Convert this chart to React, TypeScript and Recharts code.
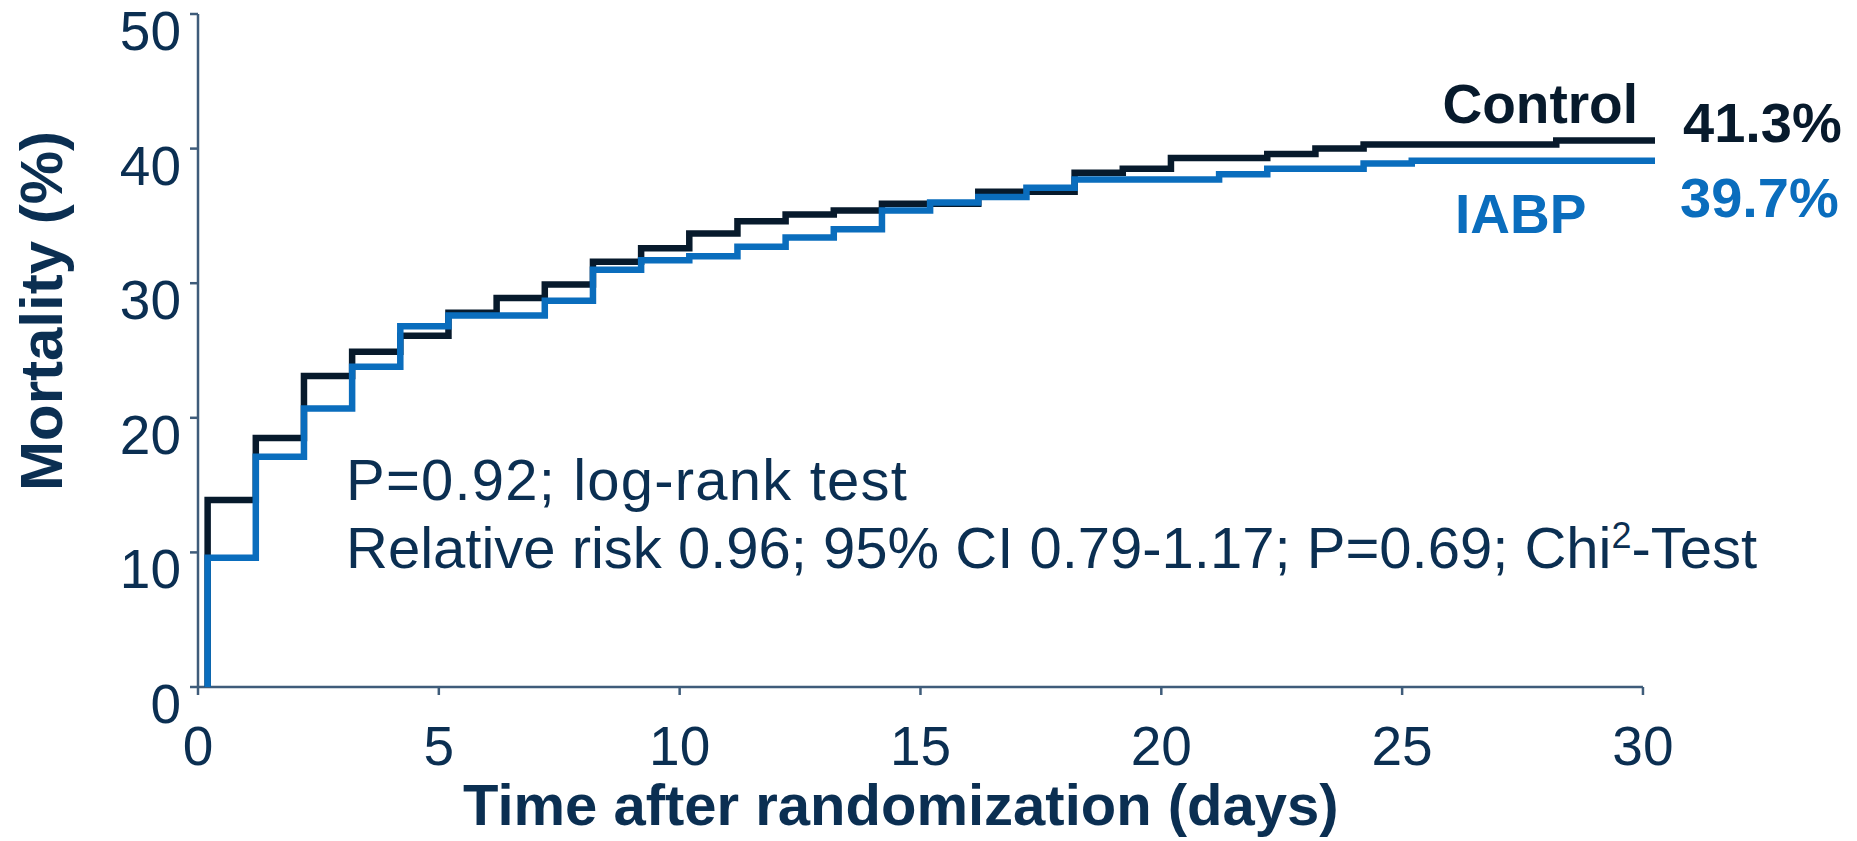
import React from "react";
import { LineChart, Line, XAxis, YAxis, ReferenceLine, Customized } from "recharts";

// Kaplan-Meier style step curves: each step happens ~0.2 d after the day mark
const stepDays = [0.2, 1.2, 2.2, 3.2, 4.2, 5.2, 6.2, 7.2, 8.2, 9.2, 10.2, 11.2, 12.2, 13.2, 14.2,
  15.2, 16.2, 17.2, 18.2, 19.2, 20.2, 21.2, 22.2, 23.2, 24.2, 25.2, 26.2, 27.2, 28.2];
const endDay = 30.25;

const controlPct = [13.9, 18.5, 23.1, 24.9, 26.1, 27.8, 28.9, 29.9, 31.6, 32.6, 33.7, 34.6, 35.1, 35.4, 35.9,
  35.9, 36.8, 36.8, 38.2, 38.5, 39.3, 39.3, 39.6, 40.0, 40.3, 40.3, 40.3, 40.3, 40.6];
const iabpPct = [9.6, 17.1, 20.7, 23.8, 26.8, 27.6, 27.6, 28.7, 31.0, 31.7, 32.0, 32.7, 33.4, 34.0, 35.4,
  36.0, 36.4, 37.1, 37.7, 37.7, 37.7, 38.1, 38.5, 38.5, 38.9, 39.1, 39.1, 39.1, 39.1];

const xTicks = [0, 5, 10, 15, 20, 25, 30];
const yTicks = [0, 10, 20, 30, 40, 50];

const FONT = "'Liberation Sans', Arial, Helvetica, sans-serif";
const NAVY = "#0b2f52";
const AXIS = "#3f5c7a";
const CONTROL = "#071a2c";
const IABP = "#0a6dbd";

const toSeries = (vals: number[]) => [
  { day: stepDays[0], pct: 0 },
  ...stepDays.map((d, i) => ({ day: d, pct: vals[i] })),
  { day: endDay, pct: vals[vals.length - 1] },
];

const controlData = toSeries(controlPct);
const iabpData = toSeries(iabpPct);

const YTick = ({ x, y, payload }: any) => (
  <text x={x - 7} y={y + 36} textAnchor="end" fontSize={55} fill={NAVY} fontFamily={FONT}>
    {payload.value}
  </text>
);

const XTick = ({ x, y, payload }: any) => (
  <text x={x} y={y + 68} textAnchor="middle" fontSize={55} fill={NAVY} fontFamily={FONT}>
    {payload.value}
  </text>
);

const Labels = () => (
  <g fontFamily={FONT}>
    <text x={62} y={311} transform="rotate(-90 62 311)" textAnchor="middle" fontSize={60} fontWeight="bold" fill={NAVY}>
      Mortality (%)
    </text>
    <text x={463} y={825} fontSize={58} fontWeight="bold" fill={NAVY}>
      Time after randomization (days)
    </text>
    <text x={346} y={500} fontSize={58} letterSpacing={1.2} fill={NAVY}>P=0.92; log-rank test</text>
    <text x={346} y={568} fontSize={58} fill={NAVY}>
      Relative risk 0.96; 95% CI 0.79-1.17; P=0.69; Chi
      <tspan dy={-20} fontSize={36}>2</tspan>
      <tspan dy={20}>-Test</tspan>
    </text>
    <text x={1638} y={123} textAnchor="end" fontSize={55} fontWeight="bold" fill={CONTROL}>Control</text>
    <text x={1683} y={142} fontSize={56} fontWeight="bold" fill={CONTROL}>41.3%</text>
    <text x={1455} y={233} fontSize={55} fontWeight="bold" fill={IABP}>IABP</text>
    <text x={1680} y={217} fontSize={56} fontWeight="bold" fill={IABP}>39.7%</text>
  </g>
);

export default function App() {
  return (
    <div style={{ position: "absolute", left: 0, top: 0, width: 1857, height: 841, background: "#fff" }}>
      <LineChart width={1857} height={841} margin={{ top: 14, right: 202, bottom: 94, left: 98 }}>
        <XAxis
          type="number"
          dataKey="day"
          domain={[0, endDay]}
          ticks={xTicks}
          axisLine={false}
          tickSize={8}
          tickLine={{ stroke: AXIS, strokeWidth: 2.5 }}
          tick={<XTick />}
          height={60}
          interval={0}
        />
        <YAxis
          type="number"
          domain={[0, 50]}
          ticks={yTicks}
          width={100}
          tickSize={8}
          axisLine={{ stroke: AXIS, strokeWidth: 2.5 }}
          tickLine={{ stroke: AXIS, strokeWidth: 2.5 }}
          tick={<YTick />}
          interval={0}
        />
        <ReferenceLine
          segment={[{ x: 0, y: 0 }, { x: 30, y: 0 }]}
          stroke={AXIS}
          strokeWidth={2.5}
          ifOverflow="visible"
        />
        <Line
          data={controlData}
          dataKey="pct"
          type="stepAfter"
          stroke={CONTROL}
          strokeWidth={6.5}
          dot={false}
          activeDot={false}
          isAnimationActive={false}
        />
        <Line
          data={iabpData}
          dataKey="pct"
          type="stepAfter"
          stroke={IABP}
          strokeWidth={6.5}
          dot={false}
          activeDot={false}
          isAnimationActive={false}
        />
        <Customized component={Labels} />
      </LineChart>
    </div>
  );
}
